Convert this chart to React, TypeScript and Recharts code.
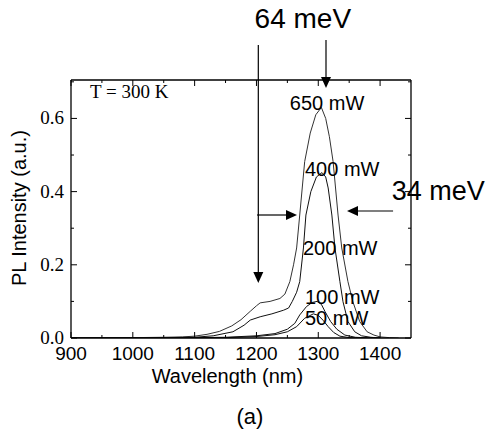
import React from 'react';
import { LineChart, Line, XAxis, YAxis, ReferenceLine, ReferenceDot } from 'recharts';

// ---- data ----
const wl650 = [900, 950, 1000, 1050, 1080, 1100, 1120, 1140, 1160, 1175, 1190, 1200, 1206, 1222, 1238, 1246, 1254, 1260, 1265, 1270, 1278, 1287, 1296, 1305, 1312, 1318, 1324, 1332, 1338, 1348, 1356, 1367, 1379, 1390, 1400, 1415, 1430];
const pl650 = [0, 0.0005, 0.001, 0.002, 0.003, 0.005, 0.01, 0.018, 0.033, 0.05, 0.073, 0.088, 0.096, 0.1, 0.108, 0.12, 0.154, 0.2, 0.246, 0.336, 0.482, 0.56, 0.61, 0.63, 0.6, 0.55, 0.482, 0.336, 0.246, 0.154, 0.099, 0.045, 0.017, 0.008, 0.003, 0.001, 0];

const wl400 = [900, 1000, 1050, 1100, 1130, 1162, 1180, 1190, 1206, 1225, 1244, 1252, 1258, 1265, 1270, 1276, 1280, 1288, 1297, 1306, 1312, 1316, 1322, 1327, 1335, 1340, 1348, 1359, 1370, 1385, 1400];
const pl400 = [0, 0.0005, 0.001, 0.002, 0.006, 0.017, 0.035, 0.049, 0.058, 0.066, 0.076, 0.082, 0.1, 0.125, 0.154, 0.246, 0.336, 0.4, 0.44, 0.452, 0.44, 0.41, 0.336, 0.246, 0.154, 0.099, 0.045, 0.017, 0.006, 0.002, 0];

const wl100 = [900, 1050, 1100, 1150, 1200, 1230, 1250, 1262, 1270, 1281, 1290, 1298, 1305, 1311, 1320, 1330, 1343, 1360, 1380, 1400];
const pl100 = [0, 0.0005, 0.001, 0.002, 0.006, 0.012, 0.024, 0.04, 0.063, 0.086, 0.097, 0.1, 0.092, 0.072, 0.045, 0.024, 0.008, 0.002, 0.0005, 0];

const wl50 = [900, 1100, 1150, 1200, 1230, 1250, 1265, 1278, 1292, 1300, 1308, 1316, 1325, 1335, 1350, 1370, 1400];
const pl50 = [0, 0.0005, 0.001, 0.004, 0.009, 0.017, 0.031, 0.054, 0.066, 0.062, 0.048, 0.031, 0.015, 0.005, 0.001, 0, 0];

const xTicks = [900, 950, 1000, 1050, 1100, 1150, 1200, 1250, 1300, 1350, 1400];
const xMajor = [900, 1000, 1100, 1200, 1300, 1400];
const yTicks = [0, 0.1, 0.2, 0.3, 0.4, 0.5, 0.6, 0.7];
const yMajor = [0, 0.2, 0.4, 0.6];
const yLabels = ['0.0', '0.2', '0.4', '0.6'];

const powerLabels = ['650 mW', '400 mW', '200 mW', '100 mW', '50 mW'];

const xDomain: [number, number] = [900, 1450];
const yDomain: [number, number] = [0, 0.705];

const zip = (w: number[], v: number[]) => w.map((x, i) => ({ w: x, v: v[i] }));
const series = [zip(wl650, pl650), zip(wl400, pl400), zip(wl100, pl100), zip(wl50, pl50)];

// ---- annotation layout (data coords) ----
const powerPos = [
  { w: 1254, v: 0.623 },
  { w: 1278.5, v: 0.443 },
  { w: 1275.3, v: 0.227 },
  { w: 1278.5, v: 0.092 },
  { w: 1278.5, v: 0.036 },
];

const arrows = [
  [{ x: 1203, y: 0.8006 }, { x: 1203, y: 0.1503 }],
  [{ x: 1312.5, y: 0.8143 }, { x: 1312.5, y: 0.6831 }],
  [{ x: 1201, y: 0.3361 }, { x: 1265.6, y: 0.3361 }],
  [{ x: 1421, y: 0.347 }, { x: 1346.5, y: 0.347 }],
];

const SANS = "'Liberation Sans', Arial, Helvetica, sans-serif";
const SERIF = "'Liberation Serif', 'Times New Roman', serif";

const XTickBottom = (p: any) => {
  const { x, y, payload } = p;
  const major = xMajor.includes(payload.value);
  return (
    <g>
      <line x1={x} y1={y} x2={x} y2={y - (major ? 6 : 3)} stroke="#000" strokeWidth={1} />
      {major && (
        <text x={x} y={y + 22} textAnchor="middle" fontFamily={SANS} fontSize={19} fill="#000">
          {payload.value}
        </text>
      )}
    </g>
  );
};

const XTickTop = (p: any) => {
  const { x, y, payload } = p;
  const major = xMajor.includes(payload.value);
  return <line x1={x} y1={y} x2={x} y2={y + (major ? 6 : 3)} stroke="#000" strokeWidth={1} />;
};

const YTickLeft = (p: any) => {
  const { x, y, payload } = p;
  const idx = yMajor.findIndex((m) => Math.abs(m - payload.value) < 1e-6);
  const major = idx >= 0;
  return (
    <g>
      <line x1={x} y1={y} x2={x + (major ? 6 : 3)} y2={y} stroke="#000" strokeWidth={1} />
      {major && (
        <text x={x - 7} y={y + 6} textAnchor="end" fontFamily={SERIF} fontSize={19} fill="#000">
          {yLabels[idx]}
        </text>
      )}
    </g>
  );
};

const YTickRight = (p: any) => {
  const { x, y, payload } = p;
  const major = yMajor.some((m) => Math.abs(m - payload.value) < 1e-6);
  return <line x1={x} y1={y} x2={x - (major ? 6 : 3)} y2={y} stroke="#000" strokeWidth={1} />;
};

const Arrow = (props: any) => {
  const { x1, y1, x2, y2 } = props;
  const dx = x2 - x1;
  const dy = y2 - y1;
  const len = Math.hypot(dx, dy) || 1;
  const ux = dx / len;
  const uy = dy / len;
  const hl = 11;
  const hw = 5;
  const bx = x2 - ux * hl;
  const by = y2 - uy * hl;
  const px = -uy * hw;
  const py = ux * hw;
  return (
    <g>
      <line x1={x1} y1={y1} x2={bx} y2={by} stroke="#000" strokeWidth={1.2} />
      <polygon points={`${x2},${y2} ${bx + px},${by + py} ${bx - px},${by - py}`} fill="#000" />
    </g>
  );
};

const textShape = (t: string, opts: { size: number; font: string; anchor?: string; rotate?: boolean }) => (p: any) => (
  <text
    x={p.cx}
    y={p.cy}
    textAnchor={opts.anchor || 'start'}
    fontFamily={opts.font}
    fontSize={opts.size}
    fill="#000"
    transform={opts.rotate ? `rotate(-90, ${p.cx}, ${p.cy})` : undefined}
  >
    {t}
  </text>
);

export default function App() {
  return (
    <div style={{ position: 'absolute', left: 0, top: 0, width: 489, height: 433, background: '#fff' }}>
      <LineChart width={489} height={433} margin={{ top: 70, right: 68, bottom: 65, left: 31 }}>
        <XAxis
          xAxisId={0}
          type="number"
          dataKey="w"
          domain={xDomain}
          allowDataOverflow
          ticks={xTicks}
          interval={0}
          height={30}
          tickSize={0}
          tickMargin={0}
          tick={<XTickBottom />}
          axisLine={{ stroke: '#000', strokeWidth: 1.3 }}
          tickLine={false}
        />
        <XAxis
          xAxisId="top"
          orientation="top"
          type="number"
          dataKey="w"
          domain={xDomain}
          allowDataOverflow
          ticks={xTicks}
          interval={0}
          height={10}
          tickSize={0}
          tickMargin={0}
          tick={<XTickTop />}
          axisLine={{ stroke: '#000', strokeWidth: 1.3 }}
          tickLine={false}
        />
        <YAxis
          yAxisId={0}
          type="number"
          domain={yDomain}
          allowDataOverflow
          ticks={yTicks}
          interval={0}
          width={40}
          tickSize={0}
          tickMargin={0}
          tick={<YTickLeft />}
          axisLine={{ stroke: '#000', strokeWidth: 1.3 }}
          tickLine={false}
        />
        <YAxis
          yAxisId="right"
          orientation="right"
          type="number"
          domain={yDomain}
          allowDataOverflow
          ticks={yTicks}
          interval={0}
          width={10}
          tickSize={0}
          tickMargin={0}
          tick={<YTickRight />}
          axisLine={{ stroke: '#000', strokeWidth: 1.3 }}
          tickLine={false}
        />
        {series.map((d, i) => (
          <Line
            key={i}
            data={d}
            dataKey="v"
            type="linear"
            stroke={i === 0 ? '#333' : '#111'}
            strokeWidth={1}
            dot={false}
            isAnimationActive={false}
          />
        ))}
        {arrows.map((seg, i) => (
          <ReferenceLine key={'a' + i} segment={seg} ifOverflow="visible" shape={Arrow} />
        ))}
        {powerLabels.map((t, i) => (
          <ReferenceDot
            key={'p' + i}
            x={powerPos[i].w}
            y={powerPos[i].v}
            r={0}
            ifOverflow="visible"
            shape={textShape(t, { size: 20, font: SANS })}
          />
        ))}
        <ReferenceDot x={930.7} y={0.656} r={0} ifOverflow="visible" shape={textShape('T = 300 K', { size: 19, font: SERIF })} />
        <ReferenceDot x={1275} y={0.847} r={0} ifOverflow="visible" shape={textShape('64 meV', { size: 28, font: SANS, anchor: 'middle' })} />
        <ReferenceDot x={1419} y={0.377} r={0} ifOverflow="visible" shape={textShape('34 meV', { size: 27, font: SANS })} />
        <ReferenceDot x={1153} y={-0.123} r={0} ifOverflow="visible" shape={textShape('Wavelength (nm)', { size: 20, font: SANS, anchor: 'middle' })} />
        <ReferenceDot x={1189.5} y={-0.234} r={0} ifOverflow="visible" shape={textShape('(a)', { size: 22, font: SANS, anchor: 'middle' })} />
        <ReferenceDot x={827.2} y={0.355} r={0} ifOverflow="visible" shape={textShape('PL Intensity (a.u.)', { size: 20, font: SANS, anchor: 'middle', rotate: true })} />
      </LineChart>
    </div>
  );
}
